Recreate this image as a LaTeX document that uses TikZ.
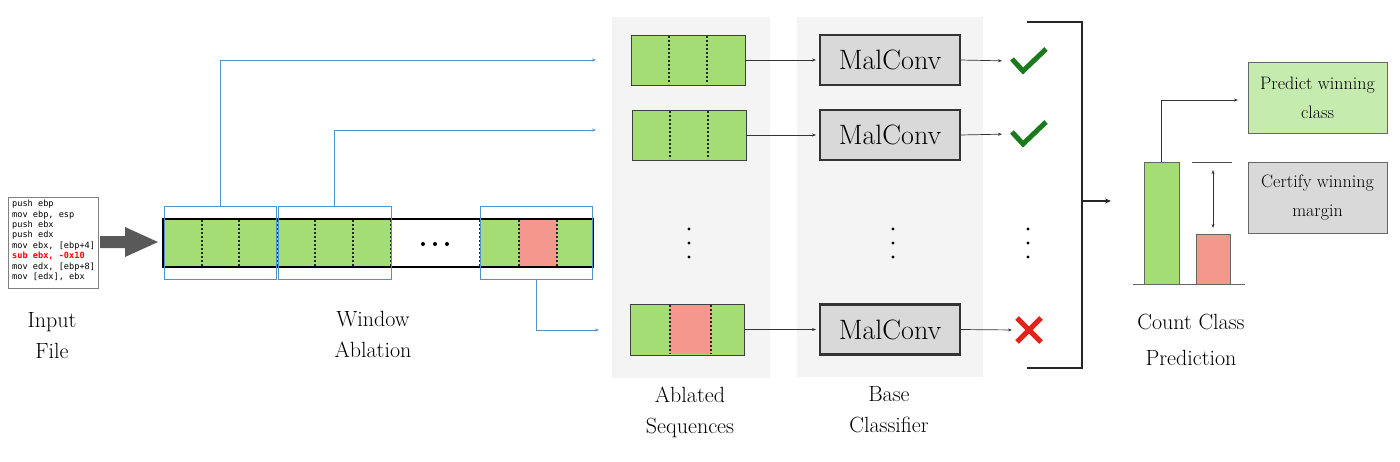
\documentclass[tikz,border=0pt]{standalone}
\usepackage{fontspec}
\newcommand\tms{\rmfamily}
\newfontfamily\codefont{DejaVu Sans Mono}
\usetikzlibrary{arrows.meta}
\definecolor{grn}{HTML}{A3DD74}
\definecolor{rd}{HTML}{F4978C}
\definecolor{blu}{HTML}{4E93C9}
\definecolor{lgrn}{HTML}{C5EBAF}
\definecolor{gry}{HTML}{D9D9D9}
\definecolor{panel}{HTML}{F4F4F4}
\definecolor{dgrn}{HTML}{1B7A1B}
\definecolor{xred}{HTML}{E2231A}
\begin{document}
\begin{tikzpicture}[x=1pt,y=-1pt,
  box/.style={inner sep=0pt, outer sep=0pt},
  win/.style={box, draw=blu, line width=0.7pt},
  seqbox/.style={box, draw=black!75, line width=0.8pt, minimum width=114, minimum height=50},
  dots/.style={line width=1.8pt, dash pattern=on 1.8pt off 2.2pt, black!85},
  mal/.style={box, draw=black!80, line width=2.5pt, fill=gry, minimum width=140, minimum height=50,
              font=\tms\fontsize{28}{30}\selectfont},
  blink/.style={blu, line width=0.7pt, -{Stealth[length=4pt,width=3pt]}},
  klink/.style={black!80, line width=0.7pt, -{Stealth[length=4pt,width=3pt]}},
  lbl/.style={align=center, font=\tms\fontsize{22}{31}\selectfont},
  ck/.style={dgrn, line width=5pt},
  vdot/.style={fill=black, circle, inner sep=0pt, minimum size=3.4pt},
  rbox/.style={box, draw=black!60, line width=0.8pt, minimum width=139, minimum height=71,
               align=center, font=\tms\fontsize{18}{29}\selectfont}
]
\useasboundingbox (0,0) rectangle (1400,461);

% ---------------- input file ----------------
\node[box, draw=black!50, line width=0.7pt, minimum width=90, minimum height=91] (code) at (53,242.5) {};
\node[anchor=north west, align=left, inner sep=0pt, font=\codefont\fontsize{8.6}{10.4}\selectfont] (codetxt) at (12,200)
{push ebp\\mov ebp, esp\\push ebx\\push edx\\mov ebx, [ebp+4]\\\textcolor{red}{\bfseries sub ebx, -0x10}\\mov edx, [ebp+8]\\mov [edx], ebx};
\fill[black!65] (100,236) -- (125,236) -- (125,227) -- (158,242) -- (125,257) -- (125,248) -- (100,248) -- cycle;
\node[lbl] (inlbl) at (52,336) {Input\\File};

% ---------------- sequence bar ----------------
\fill[grn] (163,219) rectangle (391,267);
\fill[grn] (480,219) rectangle (519,267);
\fill[rd]  (519,219) rectangle (557,267);
\fill[grn] (557,219) rectangle (593,267);
\foreach \x in {202,239,277,315,353,391,480,519,557}
  \draw[dots] (\x,220) -- (\x,266);
\node[box, draw=black, line width=2pt, minimum width=430, minimum height=48] (bar) at (378,243) {};
\node[vdot, minimum size=4pt] (hd1) at (423,244) {};
\node[vdot, minimum size=4pt] (hd2) at (435,244) {};
\node[vdot, minimum size=4pt] (hd3) at (447,244) {};
\node[win, minimum width=112, minimum height=73] (w1) at (220,242.5) {};
\node[win, minimum width=113, minimum height=73] (w2) at (334.5,242.5) {};
\node[win, minimum width=112, minimum height=73] (w3) at (536,242.5) {};
\node[lbl] (walbl) at (373,334) {Window\\Ablation};

% ---------------- panels ----------------
\node[box, fill=panel, minimum width=158, minimum height=361] (p1) at (691,197.5) {};
\node[box, fill=panel, minimum width=186, minimum height=360] (p2) at (890,197) {};

% ---------------- ablated sequences ----------------
\node[seqbox, fill=grn] (s1) at (688,60) {};
\node[seqbox, fill=grn] (s2) at (689,135) {};
\node[seqbox, fill=grn, minimum height=51] (s3) at (687.5,329.5) {};
\fill[rd] (670,304.6) rectangle (711,354.4);
\draw[black!75, line width=0.8pt] (s3.north west) rectangle (s3.south east);
\foreach \x in {669,707} \draw[dots] (\x,36) -- (\x,84);
\foreach \x in {670,708} \draw[dots] (\x,111) -- (\x,159);
\foreach \x in {670,711} \draw[dots] (\x,305) -- (\x,354);
\node[vdot] (ad1) at (689,229) {};
\node[vdot] (ad2) at (689,243) {};
\node[vdot] (ad3) at (689,257) {};
\node[lbl] (ablbl) at (690,412) {Ablated\\Sequences};

\coordinate (e1) at (596,60);
\coordinate (e2) at (596,130);
\coordinate (e3) at (599,330);
\draw[blink] (w1.north) |- (e1);
\draw[blink] (w2.north) |- (e2);
\draw[blink] (w3.south) |- (e3);

% ---------------- base classifier ----------------
\node[mal] (m1) at (890,60) {MalConv};
\node[mal] (m2) at (890,135) {MalConv};
\node[mal] (m3) at (890,329.5) {MalConv};
\node[vdot] (bd1) at (893,229) {};
\node[vdot] (bd2) at (893,243) {};
\node[vdot] (bd3) at (893,257) {};
\node[lbl] (bclbl) at (889,410) {Base\\Classifier};
\draw[klink, shorten >=4pt] (s1.east) -- (m1.west);
\draw[klink, shorten >=4pt] (s2.east) -- (m2.west);
\draw[klink, shorten >=4pt] (s3.east) -- (m3.west);

% ---------------- results ----------------
\node[box, minimum width=36, minimum height=26] (c1) at (1029,61) {};
\node[box, minimum width=36, minimum height=26] (c2) at (1029,134) {};
\node[box, minimum width=28, minimum height=26] (c3) at (1029,330) {};
\draw[ck] (1012,59) -- (1023,71) -- (1046,49);
\draw[ck] (1012,132) -- (1023,144) -- (1046,122);
\draw[xred, line width=5pt] (1017,318) -- (1041,342);
\draw[xred, line width=5pt] (1041,318) -- (1017,342);
\draw[klink, shorten >=9pt] (m1.east) -- (c1.west);
\draw[klink, shorten >=9pt] (m2.east) -- (c2.west);
\draw[klink, shorten >=3pt] (m3.east) -- (c3.west);
\node[vdot] (rd1) at (1028,229) {};
\node[vdot] (rd2) at (1028,243) {};
\node[vdot] (rd3) at (1028,257) {};

% ---------------- bracket ----------------
\coordinate (bt) at (1027,22);
\coordinate (bb) at (1027,368);
\coordinate (bm) at (1082,201);
\coordinate (bo) at (1111,201);
\draw[black!85, line width=1.2pt] (bt) -| (1082,368) -- (bb);
\draw[black!85, line width=1.2pt, -{Stealth[length=6pt,width=5pt]}] (bm) -- (bo);

% ---------------- count class ----------------
\node[box, draw=black!60, line width=0.8pt, fill=grn, minimum width=35, minimum height=122] (gbar) at (1161.5,223) {};
\node[box, draw=black!60, line width=0.8pt, fill=rd, minimum width=34, minimum height=50] (rbar) at (1213,259) {};
\coordinate (bl) at (1133,284);
\coordinate (br) at (1245,284);
\draw[black!60, line width=0.8pt] (bl) -- (br);
\node[rbox, fill=lgrn] (pred) at (1317.5,97.5) {Predict winning\\class};
\node[rbox, fill=gry] (cert) at (1317.5,197.5) {Certify winning\\margin};
\draw[klink, shorten >=10pt] (gbar.north) |- (pred.west |- 0,100);
\coordinate (ml) at (1192,162);
\coordinate (mr) at (1232,162);
\draw[black!70, line width=0.7pt] (ml) -- (mr);
\coordinate (da) at (1213,170);
\coordinate (db) at (1213,228);
\draw[black!80, line width=0.7pt, {Stealth[length=4pt,width=3pt]}-{Stealth[length=4pt,width=3pt]}] (da) -- (db);
\node[lbl, font=\tms\fontsize{22}{36}\selectfont] (cclbl) at (1191,340) {Count Class\\Prediction};
\end{tikzpicture}
\end{document}
